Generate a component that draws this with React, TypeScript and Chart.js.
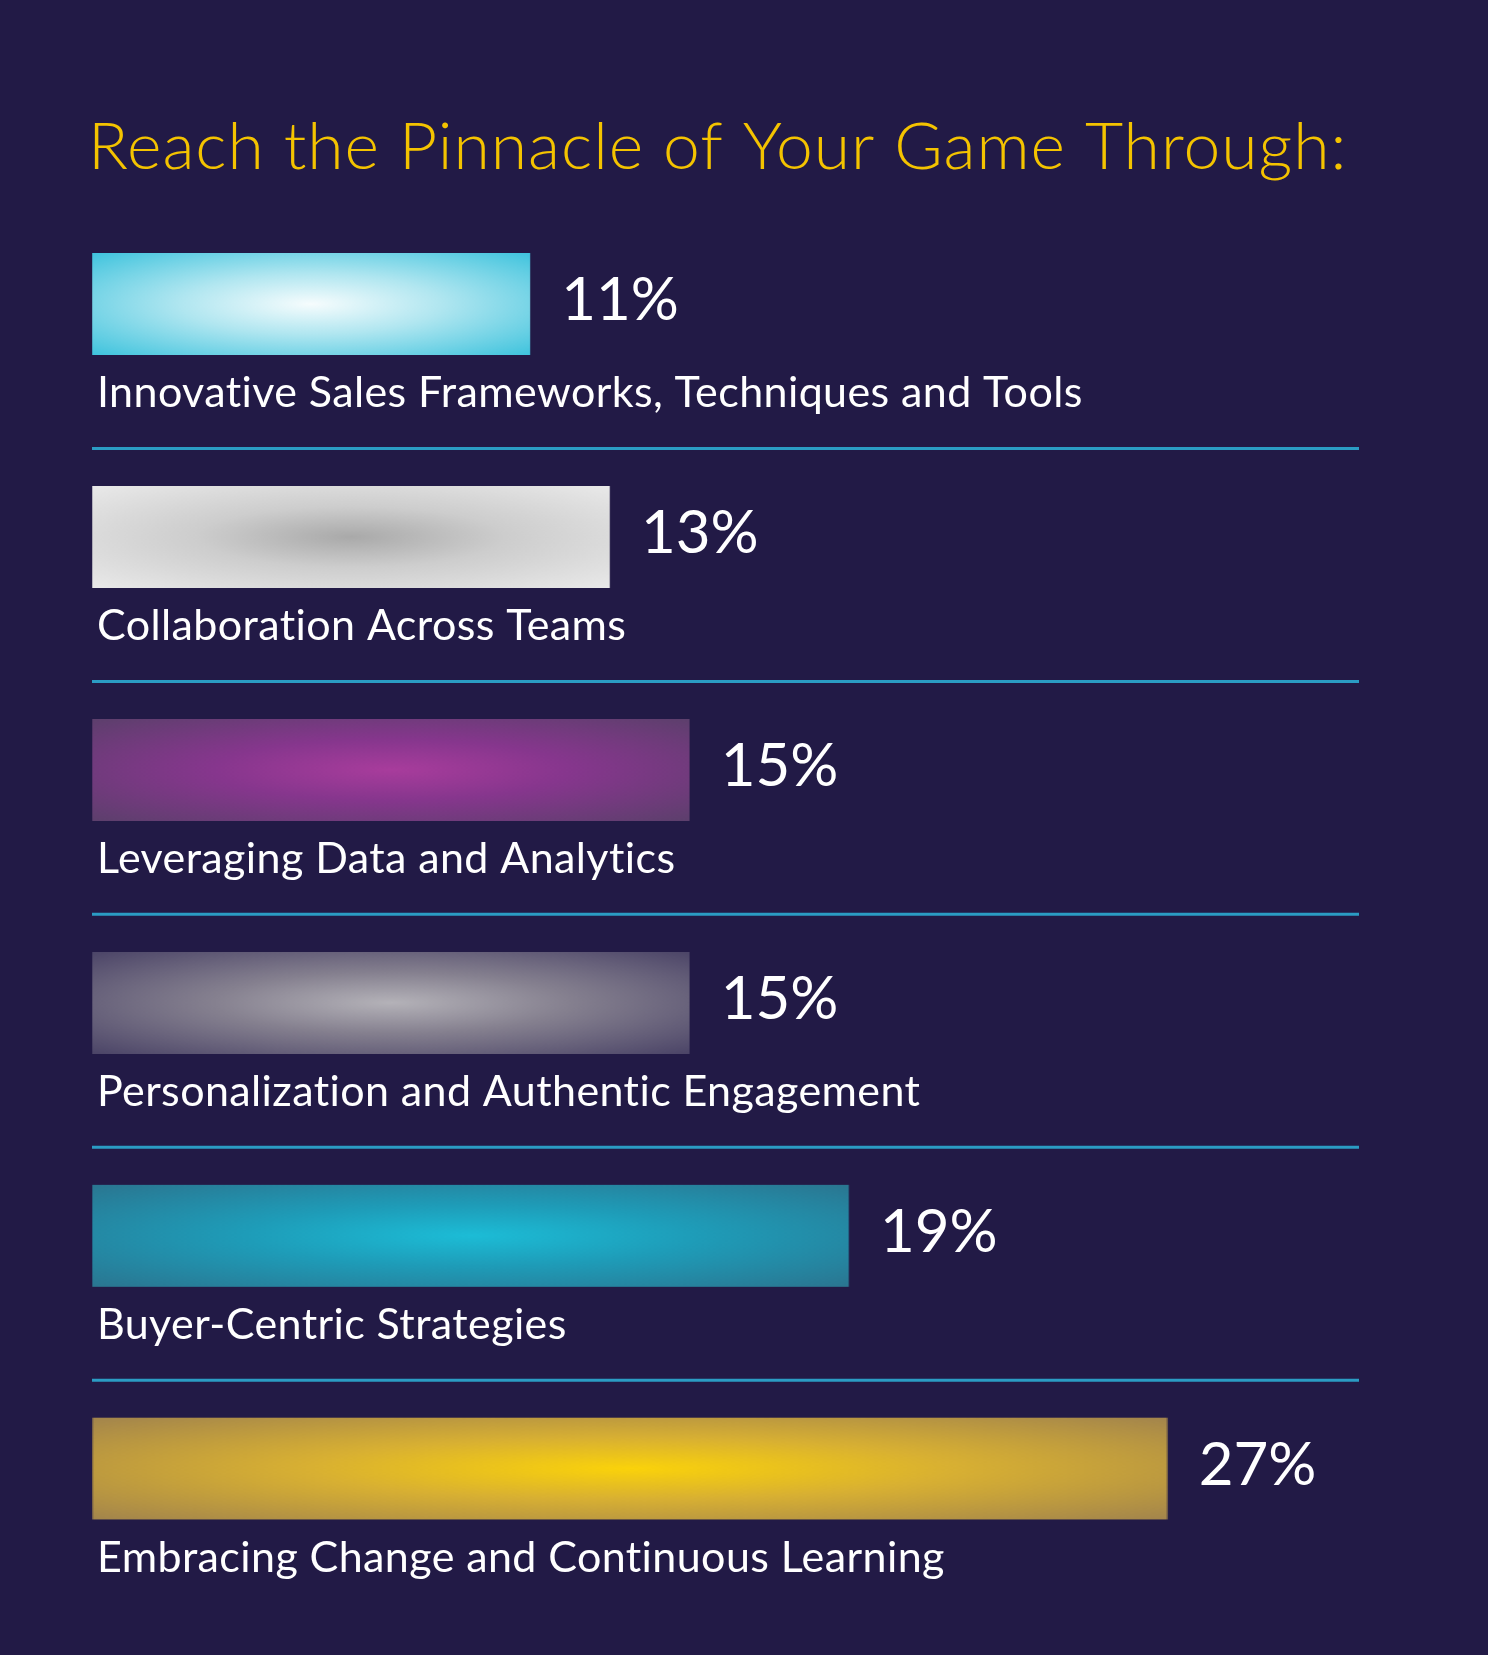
import React, { useEffect, useRef } from "react";
import { Chart, registerables } from "chart.js";

Chart.register(...registerables);

const titleText = "Reach the Pinnacle of Your Game Through:";
const categories = [
  "Innovative Sales Frameworks, Techniques and Tools",
  "Collaboration Across Teams",
  "Leveraging Data and Analytics",
  "Personalization and Authentic Engagement",
  "Buyer-Centric Strategies",
  "Embracing Change and Continuous Learning",
];
const values = [11, 13, 15, 15, 19, 27];
const valueLabels = ["11%", "13%", "15%", "15%", "19%", "27%"];

const centerColors = ["#f6fcfd", "#a9a9a9", "#a83c9c", "#b4b2b8", "#1cbcd6", "#fad20a"];
const midColors = ["#b0e6f0", "#cdcdcd", "#86368d", "#85808f", "#1e9cb8", "#d8b032"];
const edgeColors = ["#3ec3dd", "#e9e9e9", "#5c3f6c", "#4b4467", "#2a7590", "#a2844c"];

const BG = "#221a46";
const W = 1488;
const H = 1655;
const BAR_THICKNESS = 102;
const FONT = "Lato, 'Noto Sans', sans-serif";

function makePattern(ctx: CanvasRenderingContext2D, i: number, x: number, y: number, w: number, h: number) {
  const off = document.createElement("canvas");
  off.width = 256;
  off.height = 256;
  const g = off.getContext("2d")!;
  const grad = g.createRadialGradient(128, 128, 0, 128, 128, 181);
  grad.addColorStop(0, centerColors[i]);
  grad.addColorStop(0.42, midColors[i]);
  grad.addColorStop(1, edgeColors[i]);
  g.fillStyle = grad;
  g.fillRect(0, 0, 256, 256);
  const pat = ctx.createPattern(off, "no-repeat")!;
  pat.setTransform(new DOMMatrix().translate(x, y).scale(w / 256, h / 256));
  return pat;
}

const overlayPlugin = {
  id: "overlay",
  beforeDraw(chart: any) {
    const ctx = chart.ctx;
    ctx.save();
    ctx.fillStyle = BG;
    ctx.fillRect(0, 0, chart.width, chart.height);
    ctx.restore();
  },
  afterDatasetsDraw(chart: any) {
    const ctx: any = chart.ctx;
    const xs = chart.scales.x;
    const ys = chart.scales.y;
    const area = chart.chartArea;
    ctx.save();
    // title
    ctx.fillStyle = "#f4c300";
    ctx.font = `300 66px ${FONT}`;
    ctx.letterSpacing = "1px";
    ctx.textAlign = "left";
    ctx.textBaseline = "alphabetic";
    ctx.fillText(titleText, 88, 169);

    const x0 = xs.getPixelForValue(0);
    categories.forEach((cat, i) => {
      const cy = ys.getPixelForValue(i);
      const xe = xs.getPixelForValue(values[i]);
      ctx.fillStyle = "#ffffff";
      ctx.font = `400 60px ${FONT}`;
      ctx.letterSpacing = "0px";
      ctx.textBaseline = "alphabetic";
      ctx.fillText(valueLabels[i], xe + 31, cy + 16);
      ctx.font = `400 43px ${FONT}`;
      ctx.letterSpacing = "0.4px";
      ctx.fillText(cat, x0 + 5, cy + 103);
      if (i < categories.length - 1) {
        ctx.strokeStyle = "#2b9cc4";
        ctx.lineWidth = 3;
        ctx.beginPath();
        ctx.moveTo(area.left, cy + 144.5);
        ctx.lineTo(area.right, cy + 144.5);
        ctx.stroke();
      }
    });
    ctx.restore();
  },
};

export default function App() {
  const ref = useRef<HTMLCanvasElement>(null);
  useEffect(() => {
    document.body.style.background = BG;
    const canvas = ref.current!;
    const chart = new Chart(canvas, {
      type: "bar",
      data: {
        labels: categories,
        datasets: [
          {
            data: values,
            barThickness: BAR_THICKNESS,
            borderWidth: 0,
            backgroundColor: (c: any) => {
              const chart = c.chart;
              const xs = chart.scales?.x;
              const ys = chart.scales?.y;
              if (!xs || !ys || c.type !== "data") return edgeColors[c.dataIndex ?? 0];
              const i = c.dataIndex;
              const xa = xs.getPixelForValue(0);
              const xb = xs.getPixelForValue(values[i]);
              const yc = ys.getPixelForValue(i);
              return makePattern(chart.ctx, i, xa, yc - BAR_THICKNESS / 2, xb - xa, BAR_THICKNESS);
            },
          },
        ],
      },
      options: {
        indexAxis: "y",
        responsive: false,
        animation: false,
        events: [],
        layout: { padding: { left: 92, right: W - 1359, top: 187.5, bottom: H - 1585 } },
        scales: {
          x: { display: false, min: 0, max: 31.8 },
          y: { display: false },
        },
        plugins: {
          legend: { display: false },
          tooltip: { enabled: false },
          title: { display: false },
        },
      },
      plugins: [overlayPlugin],
    } as any);
    return () => chart.destroy();
  }, []);
  return (
    <div style={{ position: "absolute", left: 0, top: 0, width: W, height: H, background: BG }}>
      <canvas ref={ref} width={W} height={H} style={{ display: "block" }} />
    </div>
  );
}
